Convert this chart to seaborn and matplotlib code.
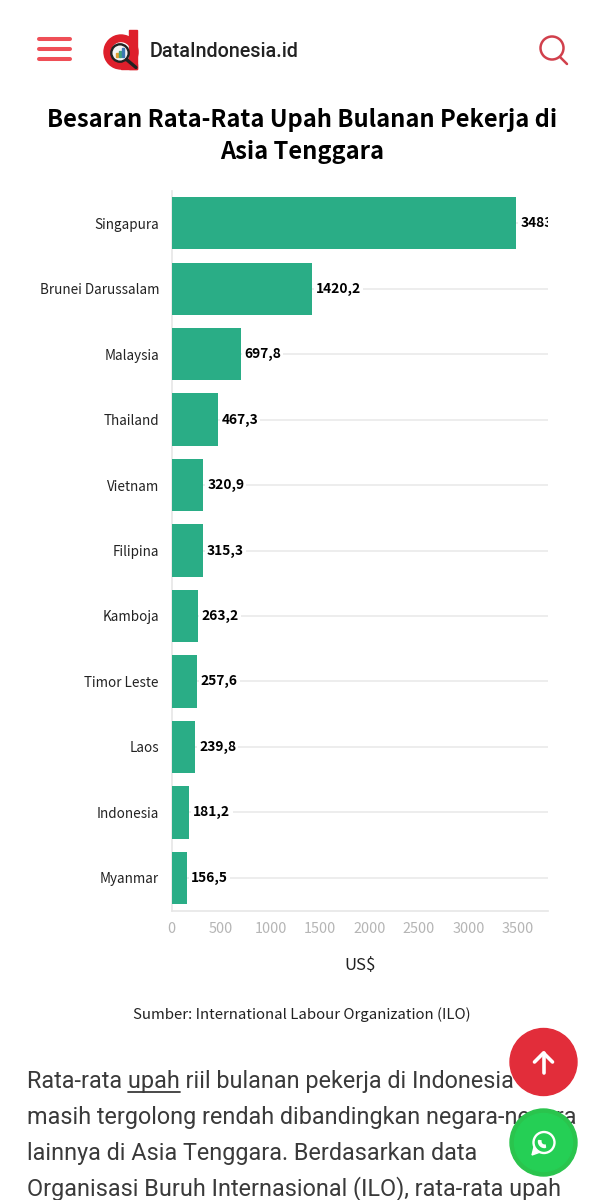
"""
Average monthly wages in Southeast Asia, as shown on a DataIndonesia.id page.
"""

import matplotlib
matplotlib.use("Agg")
import matplotlib.pyplot as plt
from matplotlib.patches import Circle, Wedge, Rectangle, Polygon
import pandas as pd
import seaborn as sns

FIG_W, FIG_H = 604, 1200

COUNTRIES = ["Singapura", "Brunei Darussalam", "Malaysia", "Thailand", "Vietnam", "Filipina",
             "Kamboja", "Timor Leste", "Laos", "Indonesia", "Myanmar"]
WAGES = [3483.0, 1420.2, 697.8, 467.3, 320.9, 315.3, 263.2, 257.6, 239.8, 181.2, 156.5]
VALUE_LABELS = ["3483", "1420,2", "697,8", "467,3", "320,9", "315,3", "263,2", "257,6", "239,8", "181,2", "156,5"]
X_TICKS = [0, 500, 1000, 1500, 2000, 2500, 3000, 3500]

TITLE_LINES = ["Besaran Rata-Rata Upah Bulanan Pekerja di", "Asia Tenggara"]
X_LABEL = "US$"
SOURCE = "Sumber: International Labour Organization (ILO)"
SITE_NAME = "DataIndonesia.id"
BODY_LINES = [
    "Rata-rata upah riil bulanan pekerja di Indonesia",
    "masih tergolong rendah dibandingkan negara-negara",
    "lainnya di Asia Tenggara. Berdasarkan data",
    "Organisasi Buruh Internasional (ILO), rata-rata upah",
]

CHART_FONT = "Noto Sans CJK SC"
BAR_COLOR = "#2AAD86"
GRID_COLOR = "#EDEDED"
RED = "#E22D3A"
GREEN = "#25CF55"


def draw_chart(fig):
    """Bar chart, placed by pixel box."""
    left, right, top, bottom = 171.5, 548, 190.5, 910.5
    ax = fig.add_axes([left / FIG_W, 1 - bottom / FIG_H, (right - left) / FIG_W, (bottom - top) / FIG_H])
    df = pd.DataFrame({"country": COUNTRIES, "wage": WAGES})
    sns.barplot(data=df, x="wage", y="country", color=BAR_COLOR, saturation=1, width=0.8, ax=ax, zorder=3,
                edgecolor=BAR_COLOR, linewidth=0)
    ax.set_xlim(0, 3803)
    ax.set_ylim(len(COUNTRIES) - 0.5, -0.5)

    ax.grid(axis="y", color=GRID_COLOR, linewidth=1.4, zorder=0)
    ax.grid(axis="x", visible=False)
    ax.set_axisbelow(True)
    sns.despine(ax=ax, top=True, right=True)
    for side in ["left", "bottom"]:
        ax.spines[side].set_color("#E6E6E6")
        ax.spines[side].set_linewidth(1.2)
        ax.spines[side].set_zorder(1)

    ax.set_xticks(X_TICKS)
    ax.tick_params(axis="x", length=4.3, width=1, color="#E6E6E6", labelcolor="#B5B5B5", labelsize=10.4, pad=4)
    ax.tick_params(axis="y", length=6, width=1, color=GRID_COLOR, labelcolor="#222222", labelsize=9.7, pad=3)
    for lab in ax.get_xticklabels() + ax.get_yticklabels():
        lab.set_fontfamily(CHART_FONT)

    ax.set_ylabel("")
    ax.set_xlabel(X_LABEL, fontsize=12, family=CHART_FONT, color="#222222", labelpad=12)
    ax.xaxis.set_label_coords((360 - left) / (right - left), -(970 - bottom) / (bottom - top), transform=ax.transAxes)
    ax.xaxis.label.set_va("baseline")

    labels = ax.bar_label(ax.containers[0], labels=VALUE_LABELS, padding=2.8, fontsize=9.9, fontweight="bold",
                          family=CHART_FONT, color="black")
    for lab in labels:
        lab.set_bbox(dict(facecolor="white", edgecolor="none", pad=1.5))
        lab.set_clip_box(ax.bbox)
        lab.set_clip_on(True)
    return ax


def draw_page(fig):
    """Page furniture around the chart, in pixel coordinates."""
    page = fig.add_axes([0, 0, 1, 1], zorder=5)
    page.set_xlim(0, FIG_W)
    page.set_ylim(FIG_H, 0)
    page.axis("off")
    page.patch.set_alpha(0)

    # menu
    for y in [39, 49, 59]:
        page.plot([38.5, 69.5], [y, y], color="#EF4F57", linewidth=2.9, solid_capstyle="round")

    # logo
    page.add_patch(Wedge((121, 52), 17, 0, 360, width=6.5, color="#DE1F2B"))
    page.add_patch(Rectangle((129, 30), 8, 39, color="#DE1F2B"))
    page.add_patch(Rectangle((121, 64), 16, 5, color="#DE1F2B"))
    page.add_patch(Circle((120, 53), 8.7, facecolor="#F4F4F4", edgecolor="#222222", linewidth=1.7))
    page.plot([126.5, 136], [59.5, 67.5], color="#222222", linewidth=2.4, solid_capstyle="round")
    page.add_patch(Rectangle((115.5, 53), 2, 4, color="#E0A030"))
    page.add_patch(Rectangle((118.5, 51), 2, 6, color="#3FA37C"))
    page.add_patch(Rectangle((121.5, 48), 2, 9, color="#3C78B4"))
    page.text(150, 51.5, SITE_NAME, family="Roboto", fontweight="medium", fontsize=14.2, color="#222222",
              ha="left", va="center")

    # search
    page.add_patch(Circle((552, 48), 11.5, facecolor="none", edgecolor="#D1404C", linewidth=1.8))
    page.plot([560, 567], [57, 64], color="#D1404C", linewidth=1.8, solid_capstyle="round")

    # title
    for text, y in zip(TITLE_LINES, [119.5, 151.5]):
        page.text(302, y, text, family=CHART_FONT, fontweight="bold", fontsize=17.05, color="black",
                  ha="center", va="center")

    page.text(302, 1015, SOURCE, family=CHART_FONT, fontsize=10.76, color="#222222", ha="center", va="center")

    # article text
    for text, y in zip(BODY_LINES, [1088, 1124, 1160, 1195.5]):
        page.text(27, y, text, family="Roboto", fontsize=16.8, color="#3A3A3A", ha="left", va="baseline")
    page.plot([128, 180], [1092, 1092], color="#3A3A3A", linewidth=1.3)

    # floating buttons
    page.add_patch(Circle((543.5, 1062), 33.5, color=RED, zorder=6))
    page.plot([543.5, 543.5], [1053, 1073], color="white", linewidth=2.6, zorder=7, solid_capstyle="round")
    page.plot([534.5, 543.5, 552.5], [1062, 1053, 1062], color="white", linewidth=2.6, zorder=7,
              solid_capstyle="round", solid_joinstyle="round")

    page.add_patch(Circle((543.5, 1142.5), 33.5, color="#2AC44D", zorder=6))
    page.add_patch(Circle((543.5, 1142.5), 29, color=GREEN, zorder=6))
    page.add_patch(Circle((544, 1142.5), 10.5, facecolor="none", edgecolor="white", linewidth=1.7, zorder=7))
    page.add_patch(Polygon([[532, 1155], [534, 1147], [539, 1152.5]], color="white", zorder=7))
    page.add_patch(Wedge((544.5, 1141.5), 6, 80, 190, width=2.4, color="white", zorder=7))


def main():
    sns.set_theme(style="white")
    plt.rcParams["font.family"] = [CHART_FONT, "DejaVu Sans"]

    fig = plt.figure(figsize=(FIG_W / 100, FIG_H / 100), dpi=100, facecolor="white")
    draw_chart(fig)
    draw_page(fig)
    fig.savefig("out.png", dpi=100)
    plt.close(fig)


if __name__ == "__main__":
    main()
